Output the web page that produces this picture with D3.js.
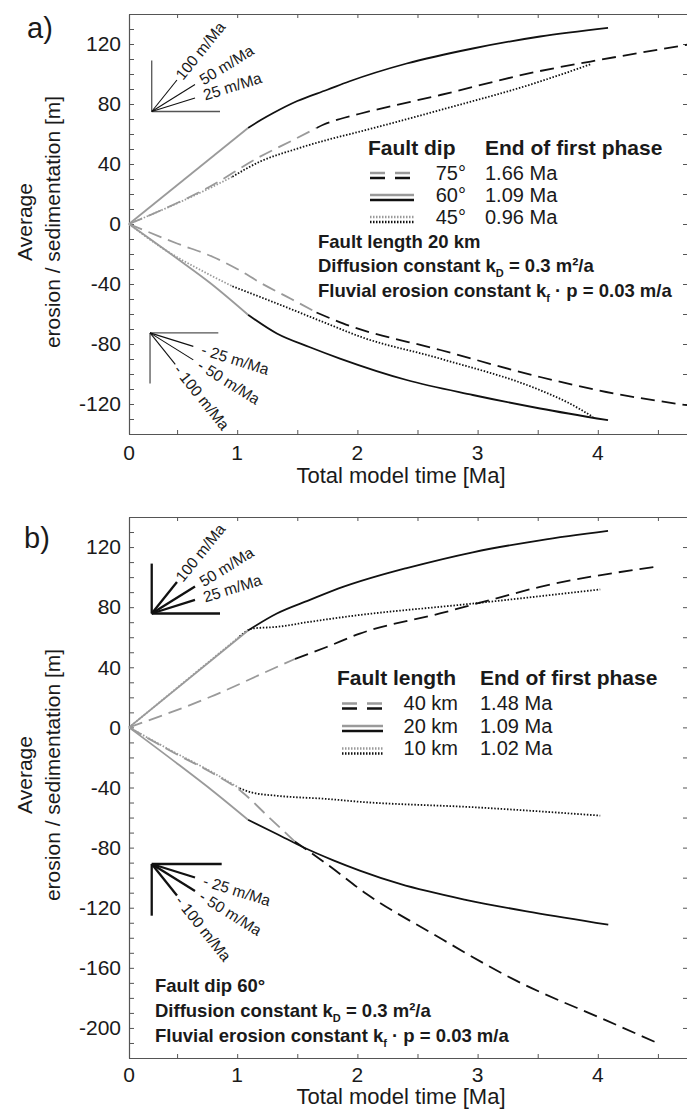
<!DOCTYPE html>
<html>
<head>
<meta charset="utf-8">
<script src="https://cdn.jsdelivr.net/npm/d3@7"></script>
<style>
  html, body { margin: 0; padding: 0; background: #fff; }
  svg { display: block; font-family: "Liberation Sans", Arial, sans-serif; }
</style>
</head>
<body>
<svg id="chart" width="687" height="1111"></svg>
<script>
// ---------------------------------------------------------------------------
// Data: total model time [Ma] vs. average erosion (-) / sedimentation (+) [m]
// ---------------------------------------------------------------------------

// Panel a: varying fault dip (fault length 20 km)
const dipAngles   = [75, 60, 45];
const dipPhaseEnd = [1.66, 1.09, 0.96];
const dip75Up   = [[0.1,0],[0.774,25],[1.19,44.9],[1.466,56],[1.66,64],[1.72,66.3],[1.855,70],[2.02,73.5],[2.69,86],[3.52,102],[3.94,108.3],[4.742,119.5]];
const dip60Up   = [[0.1,0],[1.09,64],[1.2,69.5],[1.3,74],[1.5,82],[1.75,89.5],[1.93,95],[2.41,107],[2.96,117],[3.52,125],[4.085,130.8]];
const dip45Up   = [[0.1,0],[0.774,24],[0.96,31.5],[1.19,41.6],[1.466,49.4],[1.745,56],[2.02,61.6],[2.69,76],[3.52,95],[3.95,106.8]];
const dip75Down = [[0.1,0],[0.5,-13],[0.8,-22],[1.0,-30],[1.2,-39.5],[1.45,-50],[1.66,-59],[1.88,-66.3],[2.69,-84],[3.52,-102],[4.07,-112],[4.742,-120.8]];
const dip60Down = [[0.1,0],[0.5,-23],[0.77,-39],[1.09,-60.5],[1.33,-73],[1.6,-82],[1.855,-89.7],[2.41,-104],[2.96,-114],[3.52,-123],[4.085,-130.8]];
const dip45Down = [[0.1,0],[0.357,-15],[0.774,-34],[0.96,-41.5],[1.33,-53],[1.745,-66.3],[2.02,-75],[2.687,-89.7],[3.52,-110.8],[3.75,-119],[3.96,-128.6]];

// Panel b: varying fault length (fault dip 60°)
const faultLengths = [40, 20, 10];
const lenPhaseEnd  = [1.48, 1.09, 1.02];
const len40Up   = [[0.1,0],[0.774,20.2],[1.33,40.2],[1.48,45.5],[1.745,53.5],[2.02,62.4],[2.687,75.8],[3.1,84.7],[3.52,93.5],[4.49,106.9]];
const len20Up   = [[0.1,0],[1.09,64.5],[1.33,75.8],[1.6,84.7],[1.88,93.5],[2.2,101.5],[2.41,106],[2.96,116.5],[3.52,124.5],[4.085,130.7]];
const len10Up   = [[0.1,0],[1.02,60.5],[1.13,65.8],[1.33,66.9],[1.6,70.2],[1.94,74],[2.96,82.4],[4.02,91.8]];
const len40Down = [[0.1,0],[0.5,-18],[0.774,-29.5],[1.04,-43],[1.26,-59.5],[1.48,-76],[1.745,-90.9],[2.077,-110.9],[2.63,-137.5],[3.325,-168.7],[4.07,-195],[4.49,-209.8]];
const len20Down = [[0.1,0],[0.5,-24],[0.8,-42.5],[1.09,-61.5],[1.33,-70.9],[1.55,-79.8],[1.8,-88.5],[2.02,-95.3],[2.354,-104.2],[2.91,-114.9],[3.46,-123.1],[4.087,-131.3]];
const len10Down = [[0.1,0],[0.5,-17.5],[0.774,-29],[1.02,-40.5],[1.12,-43.3],[1.33,-45.5],[1.745,-47.6],[2.02,-49.5],[2.96,-53.1],[4.02,-58.7]];

// Axis ticks
const timeTickLabels = [0, 1, 2, 3, 4];
const timeMinorTicks = [0.5, 1, 1.5, 2, 2.5, 3, 3.5, 4, 4.5];
const yLabelsA = [-120, -80, -40, 0, 40, 80, 120];
const yLabelsB = [-200, -160, -120, -80, -40, 0, 40, 80, 120];

// Reference slopes shown in the small rate fans [m/Ma]
const fanRates = [100, 50, 25];

// ---------------------------------------------------------------------------
const svg = d3.select("#chart");
const GRAY = "#9a9a9a", BLACK = "#111", AXIS = "#555", TEXT = "#1a1a1a";
const FONT = "'Liberation Sans', Arial, sans-serif";
const LINE_STYLE = [
  { dash: "14,7",    w: 1.8 },   // dashed
  { dash: null,      w: 1.8 },   // solid
  { dash: "1.5,1.7", w: 1.8 }    // dotted
];

const x = d3.scaleLinear().domain([0.1, 4.742]).range([129, 687]);
const yA = d3.scaleLinear().domain([-140, 140]).range([434, 14]);
const yB = d3.scaleLinear().domain([-220, 140]).range([1058, 517]);

// split a series at the end of the first phase (interpolated point)
function splitAt(pts, tEnd) {
  const before = [], after = [];
  for (let i = 0; i < pts.length; i++) {
    const p = pts[i];
    if (p[0] <= tEnd) before.push(p);
    else {
      if (after.length === 0) {
        const q = pts[i - 1];
        const f = (tEnd - q[0]) / (p[0] - q[0]);
        const m = [tEnd, q[1] + f * (p[1] - q[1])];
        if (before[before.length - 1][0] < tEnd) before.push(m);
        after.push(before[before.length - 1]);
      }
      after.push(p);
    }
  }
  return [before, after];
}

function drawFrame(y, labels, xLabelDy, xTitleDy) {
  const [lo, hi] = y.domain();
  const [bottom, top] = y.range();
  const g = svg.append("g").attr("color", AXIS);

  g.append("g").attr("transform", `translate(0,${top})`)
    .call(d3.axisTop(x).tickValues(timeMinorTicks).tickSize(-4).tickSizeOuter(0).tickFormat(""));
  g.append("g").attr("transform", `translate(0,${bottom})`)
    .call(d3.axisBottom(x).tickValues(timeMinorTicks).tickSize(-4).tickSizeOuter(0).tickFormat(""));
  g.append("g").attr("transform", `translate(${x.range()[0]},0)`)
    .call(d3.axisLeft(y).tickValues(d3.range(lo, hi + 1, 10)).tickSize(-5).tickSizeOuter(0).tickFormat(""));
  g.append("g").attr("transform", `translate(688,0)`)
    .call(d3.axisRight(y).tickValues(d3.range(lo + 20, hi, 20)).tickSize(-5).tickSizeOuter(0).tickFormat(""));
  g.selectAll(".domain").attr("stroke-width", 1.2);

  // value labels
  const yl = svg.append("g")
    .attr("transform", `translate(${x.range()[0]},0)`)
    .call(d3.axisLeft(y).tickValues(labels).tickSize(0).tickPadding(8).tickFormat(d => String(d)));
  yl.select(".domain").remove();
  yl.attr("font-family", FONT).attr("font-size", 21);
  yl.selectAll("text").attr("fill", TEXT);

  // time labels (axis starts at model time zero)
  svg.append("g").selectAll("text").data(timeTickLabels).join("text")
    .attr("x", d => d === 0 ? x.range()[0] : x(d))
    .attr("y", bottom + xLabelDy)
    .attr("text-anchor", "middle")
    .attr("font-size", 21).attr("fill", TEXT)
    .text(d => d);

  svg.append("text")
    .attr("x", 401).attr("y", bottom + xTitleDy)
    .attr("text-anchor", "middle")
    .attr("font-size", 22).attr("fill", TEXT)
    .text("Total model time [Ma]");
}

function drawYTitle(cy) {
  const g = svg.append("g").attr("font-size", 21).attr("fill", TEXT).attr("text-anchor", "middle");
  g.append("text").attr("transform", `translate(32,${cy}) rotate(-90)`).text("Average");
  g.append("text").attr("transform", `translate(60,${cy}) rotate(-90)`).text("erosion / sedimentation [m]");
}

function drawSeries(y, seriesList, phaseEnds) {
  const line = d3.line().x(d => x(d[0])).y(d => y(d[1])).curve(d3.curveMonotoneX);
  const parts = [];
  seriesList.forEach((pair, i) => {
    pair.forEach(pts => {
      const [a, b] = splitAt(pts, phaseEnds[i]);
      parts.push({ d: a, color: GRAY, s: LINE_STYLE[i] });
      parts.push({ d: b, color: BLACK, s: LINE_STYLE[i] });
    });
  });
  const g = svg.append("g").attr("fill", "none");
  // second phase first, first-phase grey on top
  parts.filter(p => p.color === BLACK).concat(parts.filter(p => p.color === GRAY))
    .forEach(p => {
      g.append("path").attr("d", line(p.d))
        .attr("stroke", p.color).attr("stroke-width", p.s.w)
        .attr("stroke-dasharray", p.s.dash);
    });
}

function drawFan(y, f, dir, thick) {
  const g = svg.append("g");
  const ox = x(f.t), oy = y(f.v);
  const frameColor = thick ? BLACK : AXIS;
  const fw = thick ? 2.3 : 1.3, lw = thick ? 2.3 : 1.1;
  g.append("line").attr("x1", ox).attr("y1", oy).attr("x2", ox).attr("y2", y(f.vEnd))
    .attr("stroke", frameColor).attr("stroke-width", fw);
  g.append("line").attr("x1", ox).attr("y1", oy).attr("x2", x(f.tEnd)).attr("y2", oy)
    .attr("stroke", frameColor).attr("stroke-width", fw);
  fanRates.forEach((r, i) => {
    const span = f.span[i];
    const ex = x(f.t + span), ey = y(f.v + dir * r * span);
    g.append("line").attr("x1", ox).attr("y1", oy).attr("x2", ex).attr("y2", ey)
      .attr("stroke", BLACK).attr("stroke-width", lw);
    const ang = Math.atan2(ey - oy, ex - ox);
    const gap = f.gap[i];
    const lx = ex + gap * Math.cos(ang), ly = ey + gap * Math.sin(ang);
    g.append("text")
      .attr("transform", `translate(${lx},${ly}) rotate(${ang * 180 / Math.PI})`)
      .attr("dy", "0.35em").attr("font-size", 15.5).attr("fill", TEXT)
      .text((dir < 0 ? "- " : "") + r + " m/Ma");
  });
}

function drawLegend(L) {
  const g = svg.append("g").attr("fill", TEXT);
  g.append("text").attr("x", L.titleX).attr("y", L.titleY).attr("font-weight", "bold")
    .attr("font-size", 21).text(L.title);
  g.append("text").attr("x", L.valueX).attr("y", L.titleY).attr("font-weight", "bold")
    .attr("font-size", 21).text("End of first phase");
  L.labels.forEach((lab, i) => {
    const by = L.rowY[i];
    const s = LINE_STYLE[i];
    const swDash = s.dash ? (i === 0 ? "15,10" : "1.5,1.5") : null;
    [[GRAY, by - 6.5], [BLACK, by - 1.5]].forEach(([c, yy]) => {
      g.append("line").attr("x1", L.sw[0]).attr("x2", L.sw[1]).attr("y1", yy).attr("y2", yy)
        .attr("stroke", c).attr("stroke-width", 2.3).attr("stroke-dasharray", swDash);
    });
    g.append("text").attr("x", L.labelEnd).attr("y", by).attr("text-anchor", "end")
      .attr("font-size", 20).text(lab);
    g.append("text").attr("x", L.valueX).attr("y", by)
      .attr("font-size", 20).text(L.ends[i].toFixed(2) + " Ma");
  });
}

function drawParams(px, ys, firstLine) {
  const g = svg.append("g").attr("font-weight", "bold").attr("font-size", 18.5).attr("fill", TEXT);
  g.append("text").attr("x", px).attr("y", ys[0]).text(firstLine);
  const t2 = g.append("text").attr("x", px).attr("y", ys[1]);
  t2.append("tspan").text("Diffusion constant k");
  t2.append("tspan").attr("font-size", 11).attr("dy", 5).text("D");
  t2.append("tspan").attr("dy", -5).text(" = 0.3 m²/a");
  const t3 = g.append("text").attr("x", px).attr("y", ys[2]);
  t3.append("tspan").text("Fluvial erosion constant k");
  t3.append("tspan").attr("font-size", 11).attr("dy", 5).text("f");
  t3.append("tspan").attr("dy", -5).text(" · p = 0.03 m/a");
}

// ---------------------------------------------------------------- panel a
svg.append("text").attr("x", 27).attr("y", 38).attr("font-size", 29).attr("fill", TEXT).text("a)");
drawFrame(yA, yLabelsA, 26, 49);
drawYTitle(222);
drawFan(yA, { t: 0.289, v: 75, vEnd: 109, tEnd: 0.857, span: [0.21, 0.36, 0.36], gap: [3, 7, 9] }, 1, false);
drawFan(yA, { t: 0.275, v: -72.6, vEnd: -106.3, tEnd: 0.843, span: [0.21, 0.36, 0.36], gap: [3, 7, 9] }, -1, false);
drawSeries(yA, [[dip75Up, dip75Down], [dip60Up, dip60Down], [dip45Up, dip45Down]], dipPhaseEnd);
drawLegend({
  title: "Fault dip", titleX: 368, titleY: 155, valueX: 485, labelEnd: 466,
  sw: [370, 414], rowY: [179.5, 201.5, 223.5],
  labels: dipAngles.map(d => d + "°"), ends: dipPhaseEnd
});
drawParams(318, [248, 272, 296.5], "Fault length 20 km");

// ---------------------------------------------------------------- panel b
svg.append("text").attr("x", 24).attr("y", 548).attr("font-size", 29).attr("fill", TEXT).text("b)");
drawFrame(yB, yLabelsB, 24, 46);
drawYTitle(775);
drawFan(yB, { t: 0.289, v: 75.8, vEnd: 109, tEnd: 0.857, span: [0.21, 0.36, 0.36], gap: [3, 7, 9] }, 1, true);
drawFan(yB, { t: 0.289, v: -90.9, vEnd: -125.3, tEnd: 0.871, span: [0.21, 0.36, 0.36], gap: [3, 7, 9] }, -1, true);
drawSeries(yB, [[len40Up, len40Down], [len20Up, len20Down], [len10Up, len10Down]], lenPhaseEnd);
drawLegend({
  title: "Fault length", titleX: 337, titleY: 685, valueX: 480, labelEnd: 458,
  sw: [342, 383], rowY: [710, 732.5, 755],
  labels: faultLengths.map(d => d + " km"), ends: lenPhaseEnd
});
drawParams(155, [991.5, 1016.5, 1041.5], "Fault dip 60°");
</script>
</body>
</html>
